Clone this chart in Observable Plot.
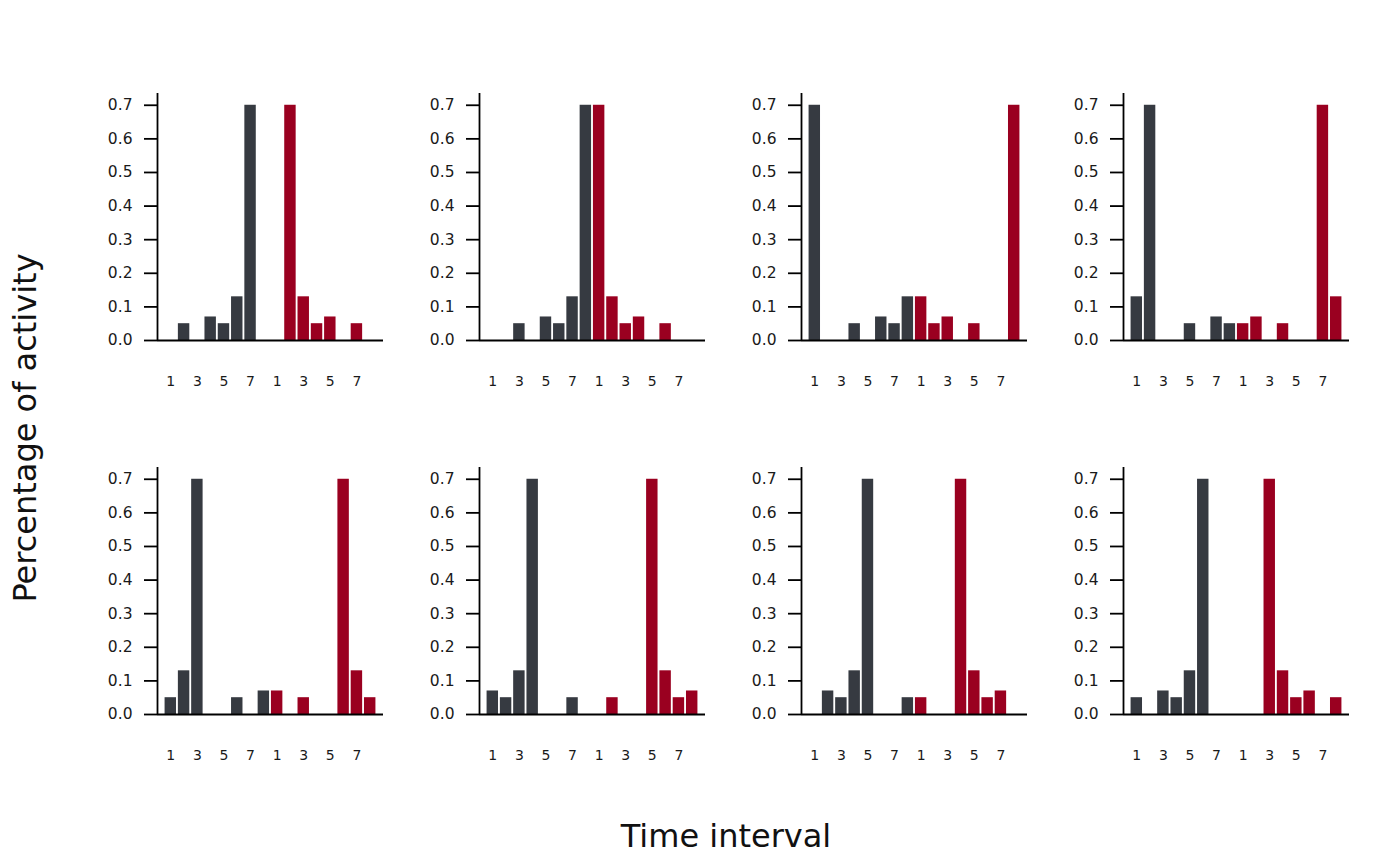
<!DOCTYPE html>
<html>
<head>
<meta charset="utf-8">
<script src="https://cdn.jsdelivr.net/npm/d3@7"></script>
<script src="https://cdn.jsdelivr.net/npm/@observablehq/plot@0.6"></script>
<style>
  html, body { margin: 0; padding: 0; background: #fff; }
  #chart { position: relative; width: 1400px; height: 866px; background: #fff; font-family: "DejaVu Sans", sans-serif; }
  .panel { position: absolute; }
  .panel [aria-label="y-axis tick label"] { font-size: 15.5px; }
  .panel [aria-label="x-axis tick label"] { font-size: 14px; }
  .xtitle { position: absolute; left: 526px; width: 400px; text-align: center; top: 820px; font-size: 32px; line-height: 32px; color: #111; }
  .ytitle { position: absolute; width: 400px; text-align: center; font-size: 32px; line-height: 32px; color: #111;
            left: -175px; top: 412px; transform: rotate(-90deg); transform-origin: 200px 16px; }
</style>
</head>
<body>
<div id="chart">
  <div class="xtitle">Time interval</div>
  <div class="ytitle">Percentage of activity</div>
</div>
<script>
// ---- data ----
const slots = [1, 2, 3, 4, 5, 6, 7, 8, 9, 10, 11, 12, 13, 14, 15, 16];
const tickPositions = [1, 3, 5, 7, 9, 11, 13, 15];
const tickLabels = ["1", "3", "5", "7", "1", "3", "5", "7"];
const yTicks = [0, 0.1, 0.2, 0.3, 0.4, 0.5, 0.6, 0.7];
const groups = ["first", "second"];
const groupColors = ["#363a41", "#9a0020"];

// first 8 intervals (dark) and second 8 intervals (red) for each panel
const panel1First  = [0, 0.05, 0, 0.07, 0.05, 0.13, 0.70, 0];
const panel1Second = [0, 0.70, 0.13, 0.05, 0.07, 0, 0.05, 0];
const panel2First  = [0, 0, 0.05, 0, 0.07, 0.05, 0.13, 0.70];
const panel2Second = [0.70, 0.13, 0.05, 0.07, 0, 0.05, 0, 0];
const panel3First  = [0.70, 0, 0, 0.05, 0, 0.07, 0.05, 0.13];
const panel3Second = [0.13, 0.05, 0.07, 0, 0.05, 0, 0, 0.70];
const panel4First  = [0.13, 0.70, 0, 0, 0.05, 0, 0.07, 0.05];
const panel4Second = [0.05, 0.07, 0, 0.05, 0, 0, 0.70, 0.13];
const panel5First  = [0.05, 0.13, 0.70, 0, 0, 0.05, 0, 0.07];
const panel5Second = [0.07, 0, 0.05, 0, 0, 0.70, 0.13, 0.05];
const panel6First  = [0.07, 0.05, 0.13, 0.70, 0, 0, 0.05, 0];
const panel6Second = [0, 0.05, 0, 0, 0.70, 0.13, 0.05, 0.07];
const panel7First  = [0, 0.07, 0.05, 0.13, 0.70, 0, 0, 0.05];
const panel7Second = [0.05, 0, 0, 0.70, 0.13, 0.05, 0.07, 0];
const panel8First  = [0.05, 0, 0.07, 0.05, 0.13, 0.70, 0, 0];
const panel8Second = [0, 0, 0.70, 0.13, 0.05, 0.07, 0, 0.05];

const panels = [
  [panel1First, panel1Second], [panel2First, panel2Second],
  [panel3First, panel3Second], [panel4First, panel4Second],
  [panel5First, panel5Second], [panel6First, panel6Second],
  [panel7First, panel7Second], [panel8First, panel8Second]
];

// ---- layout ----
const chart = document.getElementById("chart");
const halfBar = 0.43;
const textColor = "#1a1a1a";

panels.forEach((pair, p) => {
  const rows = [];
  pair.forEach((vals, g) => {
    vals.forEach((v, i) => {
      rows.push({slot: slots[g * 8 + i], value: v, group: groups[g]});
    });
  });

  const plot = Plot.plot({
    width: 300,
    height: 320,
    marginLeft: 57,
    marginRight: 17,
    marginTop: 13,
    marginBottom: 60,
    style: {fontFamily: "DejaVu Sans, sans-serif", fontSize: "15px", color: textColor, background: "transparent", overflow: "visible"},
    x: {type: "linear", domain: [0, 17]},
    y: {domain: [0, 0.735]},
    color: {domain: groups, range: groupColors},
    marks: [
      Plot.rectY(rows, {
        x1: d => d.slot - halfBar,
        x2: d => d.slot + halfBar,
        y1: 0,
        y2: "value",
        fill: "group"
      }),
      Plot.ruleY([0], {stroke: "#000", strokeWidth: 1.8}),
      Plot.ruleX([0], {stroke: "#000", strokeWidth: 1.8}),
      Plot.axisY({
        ticks: yTicks,
        tickFormat: d3.format(".1f"),
        tickSize: 13,
        tickPadding: 12,
        fontSize: 15.5,
        stroke: "#000",
        strokeWidth: 1.8,
        fill: textColor,
        label: null
      }),
      Plot.axisX({
        ticks: tickPositions,
        tickFormat: d => tickLabels[tickPositions.indexOf(d)],
        tickSize: 0,
        tickPadding: 36,
        fontSize: 14,
        fill: textColor,
        label: null
      })
    ]
  });

  const col = p % 4;
  const row = Math.floor(p / 4);
  const wrap = document.createElement("div");
  wrap.className = "panel";
  wrap.style.left = (100 + 322 * col) + "px";
  wrap.style.top = (80 + 373.5 * row) + "px";
  wrap.appendChild(plot);
  chart.appendChild(wrap);
});
</script>
</body>
</html>
